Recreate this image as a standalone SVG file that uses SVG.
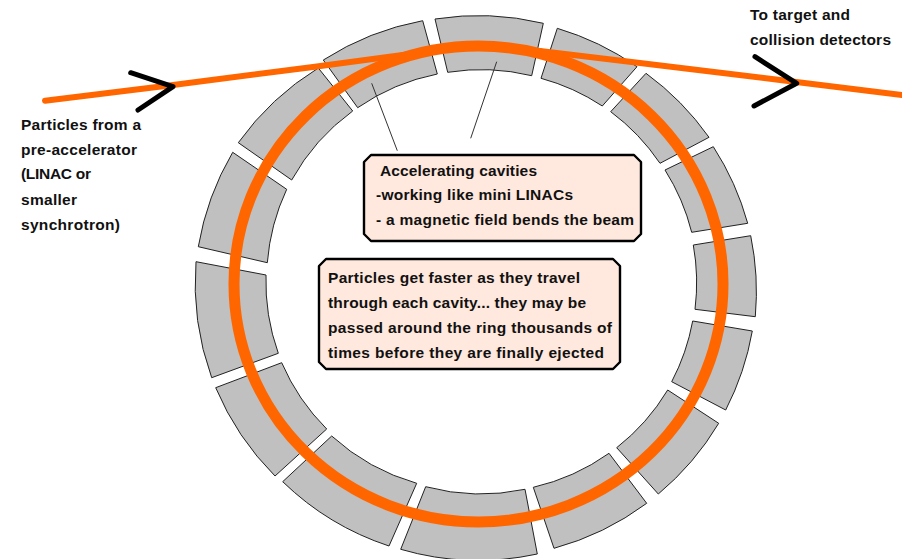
<svg xmlns="http://www.w3.org/2000/svg" width="902" height="559" viewBox="0 0 902 559">
<style>
.seg{fill:#c0c0c0;stroke:#222;stroke-width:1}
.box{fill:#ffe8dd;stroke:#000;stroke-width:2.4;stroke-linejoin:round}
.t{font-family:"Liberation Sans",Arial,sans-serif;font-size:15.5px;font-weight:bold;fill:#111}
.beam{fill:none;stroke:#ff6600;stroke-linecap:round}
.chev{fill:none;stroke:#000;stroke-width:5;stroke-linecap:round;stroke-linejoin:round}
.lead{fill:none;stroke:#333;stroke-width:1}
</style>
<rect width="902" height="559" fill="#fff"/>
<g id="cavities">
<path class="seg" d="M422.7 20.7L437.3 74A213 213 0 0 0 357.7 107.7L323.3 60A278 278 0 0 1 422.7 20.7Z"/>
<path class="seg" d="M318.3 68L352.7 111A213 213 0 0 0 291.7 180L238.3 142.7A278 278 0 0 1 318.3 68Z"/>
<path class="seg" d="M232.7 152.3L286.7 189.3A213 213 0 0 0 267.3 262.7L198.3 246.7A278 278 0 0 1 232.7 152.3Z"/>
<path class="seg" d="M196 261.7L266 275A213 213 0 0 0 278.3 353.3L211.7 377.7A278 278 0 0 1 196 261.7Z"/>
<path class="seg" d="M215.7 387.7L281.7 362.7A213 213 0 0 0 326.7 429L275 476A278 278 0 0 1 215.7 387.7Z"/>
<path class="seg" d="M282.7 481.7L331.7 436A213 213 0 0 0 416.7 483.3L389 546A278 278 0 0 1 282.7 481.7Z"/>
<path class="seg" d="M400.7 549.3L425.7 486.7A213 213 0 0 0 525 489.3L537.3 554A278 278 0 0 1 400.7 549.3Z"/>
<path class="seg" d="M533.3 487.3A213 213 0 0 0 609 453.3L646.7 503.3A278 278 0 0 1 554 548.3Z"/>
<path class="seg" d="M616.7 447.7A213 213 0 0 0 667.7 390L718.7 423.3A278 278 0 0 1 658.3 494Z"/>
<path class="seg" d="M671.7 381.7A213 213 0 0 0 692.7 321L752.3 331A278 278 0 0 1 725.7 410Z"/>
<path class="seg" d="M693.3 245L750.7 235.7A278 278 0 0 1 755.3 316.7L695 309.3A213 213 0 0 0 693.3 245Z"/>
<path class="seg" d="M665 170L713.3 146.7A278 278 0 0 1 747.7 223.3L691.7 232.3A213 213 0 0 0 665 170Z"/>
<path class="seg" d="M610.7 111.7L646 73.3A278 278 0 0 1 709 137.3L660 163.3A213 213 0 0 0 610.7 111.7Z"/>
<path class="seg" d="M541 78.3L557.3 28.3A278 278 0 0 1 637 66.7L602.3 106A213 213 0 0 0 541 78.3Z"/>
<path class="seg" d="M435 19L447.7 72.3A213 213 0 0 1 531.7 75.7L543.3 23.3A278 278 0 0 0 435 19Z"/>
</g>
<g id="connectors">
<path class="lead" d="M371.7 83.3L397.3 150.7"/>
<path class="lead" d="M496.7 61.7L470.7 138.3"/>
<ellipse class="beam" cx="478.5" cy="284" rx="244.5" ry="238" stroke-width="11"/>
<path class="beam" stroke-width="6" d="M45 100.7L173 85L313 67L440 50"/>
<path class="beam" stroke-width="6" d="M540 51L640 63L780 80L902 95"/>
<path class="chev" d="M130.7 72.7L173 86.7L138 110"/>
<path class="chev" d="M755 56.7L796.7 83.3L754 106"/>
</g>
<g id="label-in">
<text class="t" x="21" y="130" textLength="120">Particles from a</text>
<text class="t" x="21" y="155" textLength="116">pre-accelerator</text>
<text class="t" x="21" y="179" textLength="70">(LINAC or</text>
<text class="t" x="21" y="205" textLength="56">smaller</text>
<text class="t" x="21" y="230" textLength="99">synchrotron)</text>
</g>
<g id="label-out">
<text class="t" x="750" y="20" textLength="100">To target and</text>
<text class="t" x="750" y="45" textLength="141">collision detectors</text>
</g>
<g id="box-cavities">
<path class="box" d="M371 155H634L641 162V234L634 241H371L364 234V162Z"/>
<text class="t" x="380" y="176" textLength="157">Accelerating cavities</text>
<text class="t" x="376" y="200" textLength="197">-working like mini LINACs</text>
<text class="t" x="376" y="225" textLength="258">- a magnetic field bends the beam</text>
</g>
<g id="box-particles">
<path class="box" d="M326 259H613L620 266V362L613 369H326L319 362V266Z"/>
<text class="t" x="328" y="283" textLength="252">Particles get faster as they travel</text>
<text class="t" x="328" y="308" textLength="258">through each cavity... they may be</text>
<text class="t" x="328" y="333" textLength="284">passed around the ring thousands of</text>
<text class="t" x="328" y="358" textLength="276">times before they are finally ejected</text>
</g>
</svg>
